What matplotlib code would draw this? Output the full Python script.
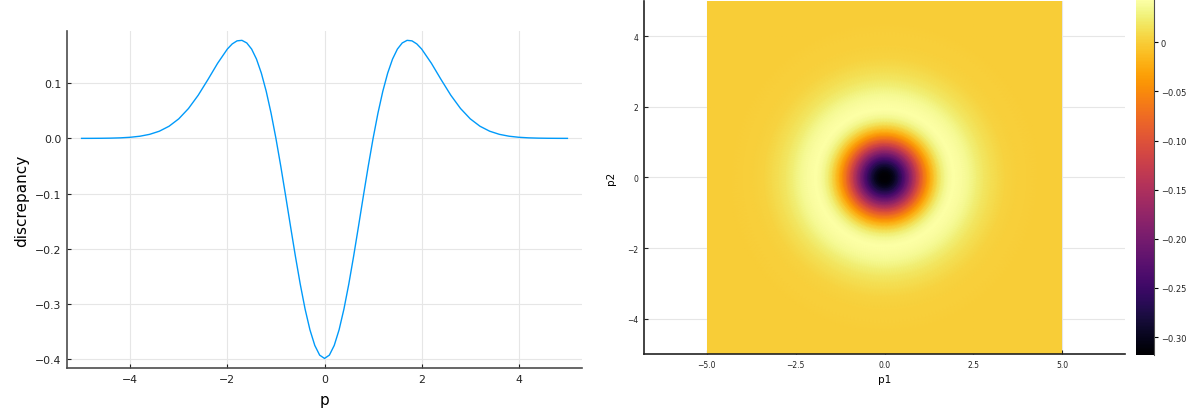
import matplotlib
import numpy as np

matplotlib.use("Agg")
import matplotlib.pyplot as plt
from matplotlib.patches import Rectangle

# 1D discrepancy curve
p = [-5.0, -4.8, -4.6, -4.4, -4.2, -4.0, -3.8, -3.6, -3.4, -3.2, -3.0,
     -2.8, -2.6, -2.4, -2.2, -2.0, -1.9, -1.8, -1.7, -1.6, -1.5, -1.4,
     -1.3, -1.2, -1.1, -1.0, -0.9, -0.8, -0.7, -0.6, -0.5, -0.4, -0.3,
     -0.2, -0.1, 0.0, 0.1, 0.2, 0.3, 0.4, 0.5, 0.6, 0.7, 0.8, 0.9, 1.0,
     1.1, 1.2, 1.3, 1.4, 1.5, 1.6, 1.7, 1.8, 1.9, 2.0, 2.2, 2.4, 2.6,
     2.8, 3.0, 3.2, 3.4, 3.6, 3.8, 4.0, 4.2, 4.4, 4.6, 4.8, 5.0]
discrepancy = [0.00004, 0.00009, 0.00020, 0.00046, 0.00098, 0.00201,
               0.00392, 0.00732, 0.01301, 0.02203, 0.03545, 0.05417,
               0.07822, 0.10658, 0.13620, 0.16197, 0.17127, 0.17685,
               0.17775, 0.17304, 0.16190, 0.14374, 0.11824, 0.08544,
               0.04575, 0.0, -0.05056, -0.10429, -0.15925, -0.21326,
               -0.26405, -0.30935, -0.34706, -0.37540, -0.39298, -0.39894,
               -0.39298, -0.37540, -0.34706, -0.30935, -0.26405, -0.21326,
               -0.15925, -0.10429, -0.05056, 0.0, 0.04575, 0.08544,
               0.11824, 0.14374, 0.16190, 0.17304, 0.17775, 0.17685,
               0.17127, 0.16197, 0.13620, 0.10658, 0.07822, 0.05417,
               0.03545, 0.02203, 0.01301, 0.00732, 0.00392, 0.00201,
               0.00098, 0.00046, 0.00020, 0.00009, 0.00004]

# 2D discrepancy depends only on the radius sqrt(p1^2 + p2^2)
radius = [0.0, 0.1, 0.2, 0.3, 0.4, 0.5, 0.6, 0.7, 0.8, 0.9, 1.0, 1.1,
          1.2, 1.3, 1.4, 1.5, 1.6, 1.7, 1.8, 1.9, 2.0, 2.2, 2.4, 2.6,
          2.8, 3.0, 3.2, 3.4, 3.6, 3.8, 4.0, 4.4, 4.8, 5.5, 7.2]
radial_value = [-0.31831, -0.31514, -0.30577, -0.29061, -0.27033,
                -0.24579, -0.21802, -0.18810, -0.15718, -0.12632,
                -0.09653, -0.06866, -0.04338, -0.02119, -0.00239,
                0.01292, 0.02478, 0.03339, 0.03906, 0.04214, 0.04308,
                0.04019, 0.03359, 0.02579, 0.01844, 0.01238, 0.00784,
                0.00470, 0.00268, 0.00145, 0.00075, 0.00017, 0.00003,
                0.0, 0.0]

cbar_ticks = [0.0, -0.05, -0.10, -0.15, -0.20, -0.25, -0.30]
cbar_labels = ["0", "−0.05", "−0.10", "−0.15", "−0.20", "−0.25", "−0.30"]

LINE = "#009afa"
SPINE = "#4d4d4d"
GRID = "#e6e6e6"

fig = plt.figure(figsize=(11.99, 4.14), dpi=100)

# ---- left: 1D curve ----
ax1 = fig.add_axes([0.0559, 0.1087, 0.4295, 0.814])
ax1.plot(p, discrepancy, color=LINE, lw=1.0)
ax1.set_xlim(-5.3, 5.3)
ax1.set_ylim(-0.4163, 0.1947)
ax1.set_xticks([-4, -2, 0, 2, 4])
ax1.set_xticklabels(["−4", "−2", "0", "2", "4"])
ax1.set_yticks([-0.4, -0.3, -0.2, -0.1, 0.0, 0.1])
ax1.set_yticklabels(["−0.4", "−0.3", "−0.2", "−0.1", "0.0", "0.1"])
ax1.set_xlabel("p", fontsize=11, labelpad=6)
ax1.set_ylabel("discrepancy", fontsize=11, labelpad=4)

# ---- right: 2D heatmap on a polar mesh, clipped to the square domain ----
ax2 = fig.add_axes([0.5371, 0.1425, 0.4012, 0.8527])
theta = np.linspace(0, 2 * np.pi, 241)
R, T = np.meshgrid(radius, theta)
C = np.tile(radial_value, (len(theta), 1))
mesh = ax2.pcolormesh(R * np.cos(T), R * np.sin(T), C, shading="gouraud",
                      cmap="inferno", vmin=-0.31831, vmax=0.04308, zorder=1)
mesh.set_clip_path(Rectangle((-5, -5), 10, 10, transform=ax2.transData))
ax2.set_xlim(-6.77, 6.77)
ax2.set_ylim(-5, 5)
ax2.set_xticks([-5, -2.5, 0, 2.5, 5])
ax2.set_xticklabels(["−5.0", "−2.5", "0.0", "2.5", "5.0"])
ax2.set_yticks([-4, -2, 0, 2, 4])
ax2.set_yticklabels(["−4", "−2", "0", "2", "4"])
ax2.set_xlabel("p1", fontsize=7.5, labelpad=4)
ax2.set_ylabel("p2", fontsize=7.5, labelpad=8)

for ax, fs in [(ax1, 7.8), (ax2, 5.5)]:
    ax.grid(True, color=GRID, lw=0.8)
    ax.set_axisbelow(True)
    for side in ["top", "right"]:
        ax.spines[side].set_visible(False)
    for side in ["left", "bottom"]:
        ax.spines[side].set_color(SPINE if ax is ax1 else "#222222")
        ax.spines[side].set_linewidth(1.2)
    ax.tick_params(direction="in", length=3, width=0.8, color="#222222",
                   labelsize=fs, labelcolor="#222222", pad=4)

# ---- colorbar ----
cax = fig.add_axes([0.9475, 0.140, 0.015, 0.8576])
cb = fig.colorbar(mesh, cax=cax)
cb.set_ticks(cbar_ticks)
cb.set_ticklabels(cbar_labels)
cb.outline.set_visible(False)
cax.spines["right"].set_visible(True)
cax.spines["right"].set_color(SPINE)
cax.tick_params(direction="out", length=3, width=0.8, labelsize=6,
                labelcolor="#222222", pad=2)

fig.savefig("out.png", dpi=100)
